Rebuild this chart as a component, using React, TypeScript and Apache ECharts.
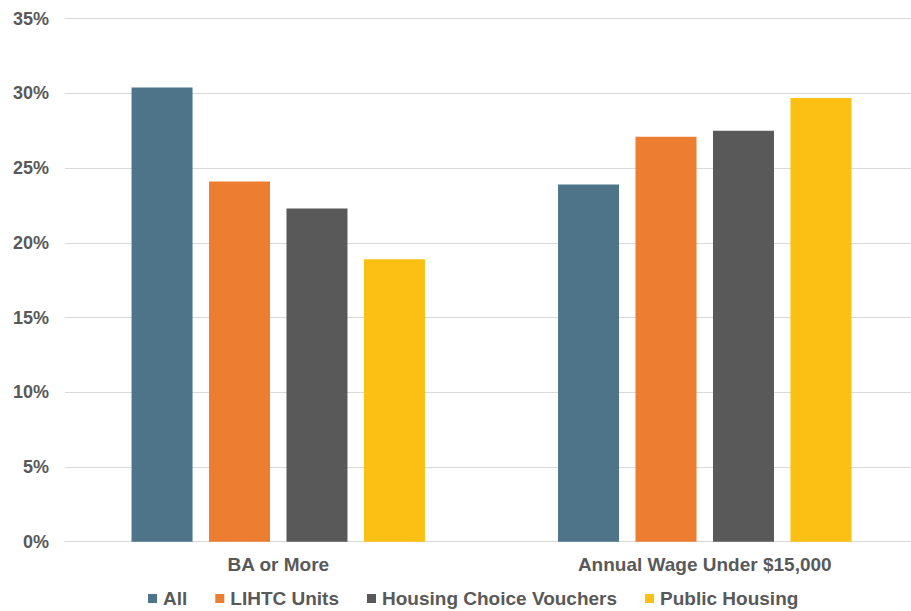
import React, { useEffect, useRef } from "react";
import * as echarts from "echarts";

const categories = ["BA or More", "Annual Wage Under $15,000"];
const seriesNames = ["All", "LIHTC Units", "Housing Choice Vouchers", "Public Housing"];
const allValues = [30.4, 23.9];
const lihtcValues = [24.1, 27.1];
const hcvValues = [22.3, 27.5];
const publicHousingValues = [18.9, 29.7];
const colors = ["#4D7489", "#ED7D31", "#595959", "#FBC013"];

export default function App() {
  const ref = useRef<HTMLDivElement>(null);
  useEffect(() => {
    if (!ref.current) return;
    const chart = echarts.init(ref.current, null, { renderer: "svg" });
    const textColor = "#595959";
    const font = "'Liberation Sans', Arial, sans-serif";
    const valuesList = [allValues, lihtcValues, hcvValues, publicHousingValues];
    chart.setOption({
      animation: false,
      backgroundColor: "#ffffff",
      textStyle: { fontFamily: font },
      grid: { left: 65, right: 12, top: 18.7, bottom: 69.3, containLabel: false },
      legend: {
        left: 143,
        top: 584,
        itemWidth: 9,
        itemHeight: 9,
        itemGap: 28,
        icon: "rect",
        textStyle: { color: textColor, fontSize: 19, fontWeight: "bold", fontFamily: font, padding: [0, 0, 0, 1] },
        data: seriesNames,
      },
      xAxis: {
        type: "category",
        data: categories,
        axisLine: { show: true, lineStyle: { color: "#D9D9D9", width: 1 } },
        axisTick: { show: false },
        axisLabel: { color: textColor, fontSize: 19, fontWeight: "bold", fontFamily: font, margin: 13 },
      },
      yAxis: {
        type: "value",
        min: 0,
        max: 35,
        interval: 5,
        axisLine: { show: false },
        axisTick: { show: false },
        splitLine: { lineStyle: { color: "#D9D9D9", width: 1 } },
        axisLabel: {
          formatter: "{value}%",
          color: textColor,
          fontSize: 18,
          fontWeight: "bold",
          fontFamily: font,
          margin: 16,
        },
      },
      series: seriesNames.map((name, i) => ({
        name,
        type: "bar",
        data: valuesList[i],
        barWidth: 61,
        barGap: "27%",
        itemStyle: { color: colors[i] },
      })),
    });
    return () => chart.dispose();
  }, []);
  return (
    <div
      ref={ref}
      style={{ position: "fixed", left: 0, top: 0, width: 930, height: 611 }}
    />
  );
}
